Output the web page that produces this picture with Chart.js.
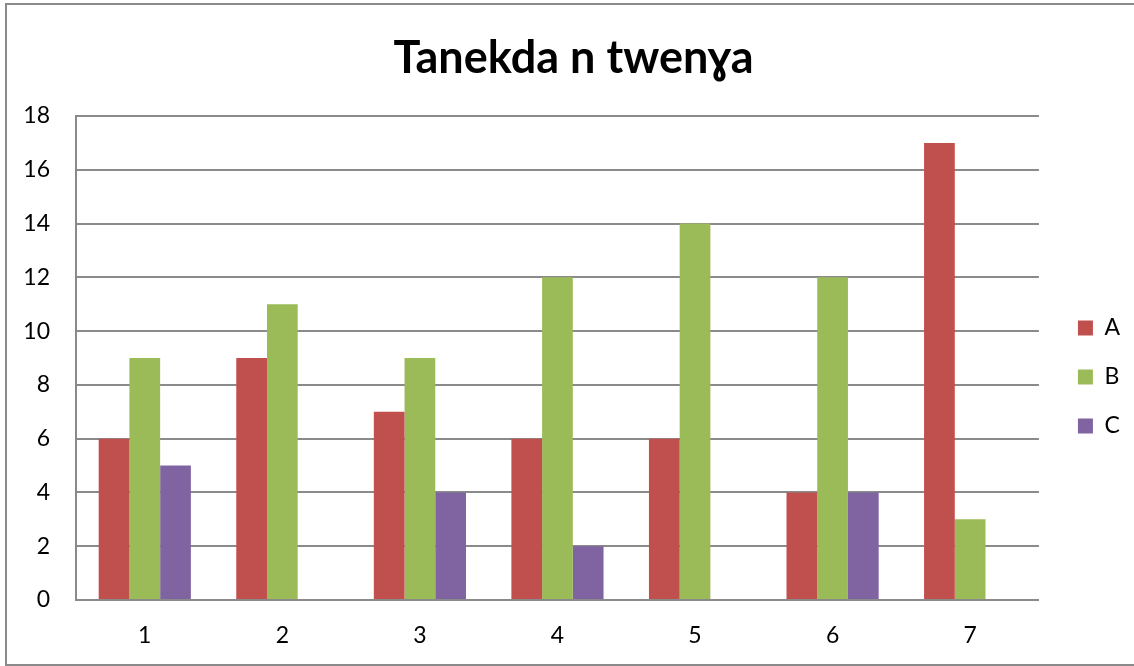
<!DOCTYPE html>
<html><head><meta charset="utf-8">
<script src="https://cdn.jsdelivr.net/npm/chart.js@4/dist/chart.umd.min.js"></script>
<style>
html,body{margin:0;padding:0;background:#fff;}
#wrap{position:relative;width:1134px;height:666px;}
</style></head>
<body><div id="wrap"><canvas id="c" width="1134" height="666"></canvas></div>
<script>
const categories = ['1','2','3','4','5','6','7'];
const seriesA = [6, 9, 7, 6, 6, 4, 17];
const seriesB = [9, 11, 9, 12, 14, 12, 3];
const seriesC = [5, 0, 4, 2, 0, 4, 0];
const seriesNames = ['A','B','C'];
const yTicks = [0,2,4,6,8,10,12,14,16,18];
const titleText = 'Tanekda n twenɣa';

const FONT = "Lato, 'Open Sans', 'DejaVu Sans', sans-serif";

const borderPlugin = {
  id: 'outerBorder',
  afterDraw(chart) {
    const ctx = chart.ctx;
    ctx.save();
    ctx.strokeStyle = '#8a8a8a';
    ctx.lineWidth = 2;
    ctx.strokeRect(6, 4, 1140, 661);
    ctx.restore();
  }
};

const boxShift = {
  id: 'boxShift',
  afterLayout(chart) {
    const lg = chart.legend;
    if (lg) { lg.top += 35; lg.bottom += 35; lg.left += 13; lg.right += 13; }
    const tb = chart.titleBlock;
    if (tb) { tb.left += 9; tb.right += 9; }
  }
};

new Chart(document.getElementById('c'), {
  type: 'bar',
  data: {
    labels: categories,
    datasets: [
      { label: seriesNames[0], data: seriesA, backgroundColor: '#C0504D' },
      { label: seriesNames[1], data: seriesB, backgroundColor: '#9BBB59' },
      { label: seriesNames[2], data: seriesC, backgroundColor: '#8064A2' }
    ]
  },
  options: {
    responsive: false,
    animation: false,
    devicePixelRatio: 1,
    layout: { padding: { top: 18, left: 12, right: 17, bottom: 0 } },
    plugins: {
      title: {
        display: true,
        text: titleText,
        color: '#000',
        font: { family: FONT, size: 45, weight: 'bold' },
        padding: { top: 13, bottom: 31 }
      },
      legend: {
        position: 'right',
        align: 'center',
        labels: {
          color: '#000',
          font: { family: FONT, size: 23 },
          boxWidth: 15,
          boxHeight: 15,
          padding: 26
        }
      },
      tooltip: { enabled: false }
    },
    scales: {
      x: {
        grid: { display: false, drawTicks: false },
        border: { display: true, color: '#8a8a8a', width: 2 },
        ticks: { color: '#000', font: { family: FONT, size: 23 }, padding: 22 },
        afterFit(scale) { scale.height = 66; }
      },
      y: {
        min: 0, max: 18,
        afterBuildTicks(scale) { scale.ticks = yTicks.map(v => ({ value: v })); },
        grid: { color: '#8a8a8a', lineWidth: 2, drawTicks: false },
        border: { display: true, color: '#8a8a8a', width: 2 },
        ticks: { color: '#000', font: { family: FONT, size: 23 }, padding: 26 },
        afterFit(scale) { scale.width = 64; }
      }
    },
    datasets: { bar: { categoryPercentage: 0.67, barPercentage: 1 } }
  },
  plugins: [borderPlugin, boxShift]
});
</script>
</body></html>
